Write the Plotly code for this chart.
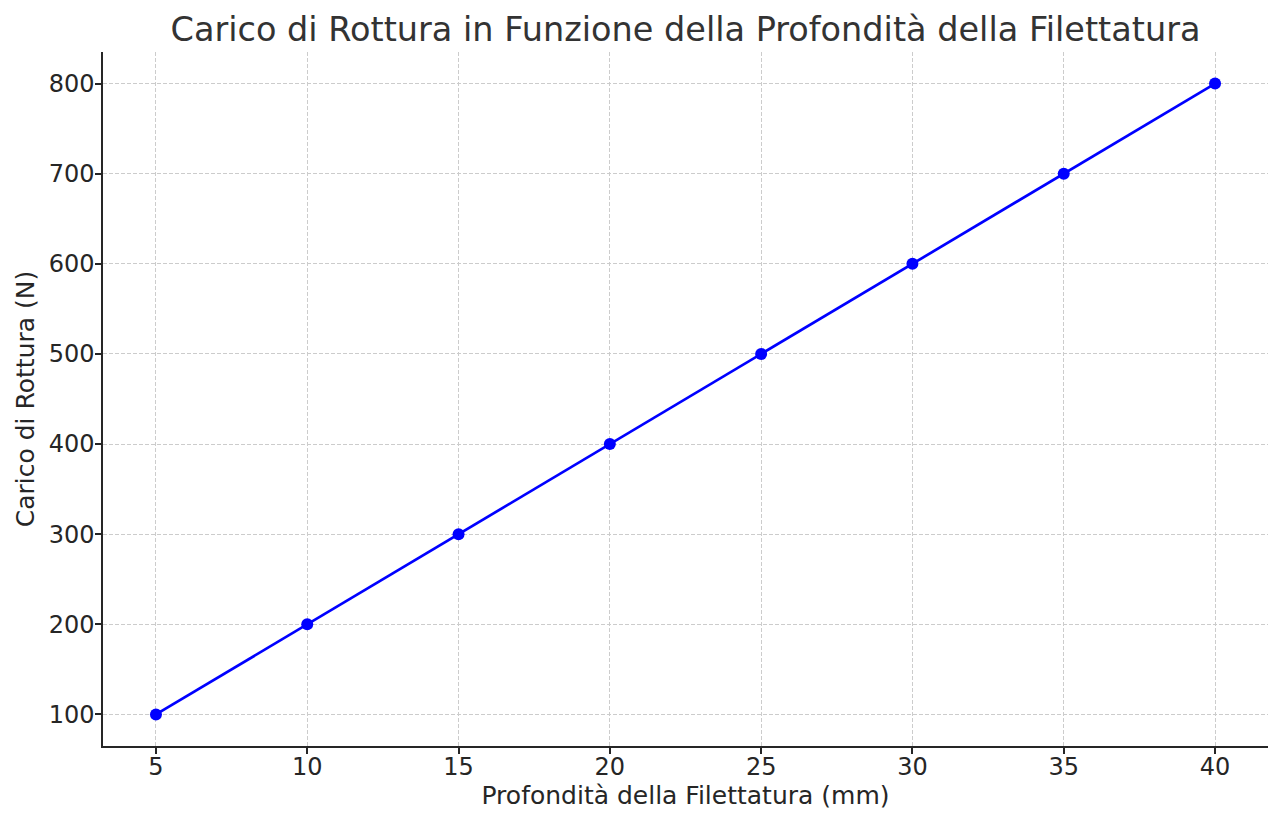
import plotly.graph_objects as go

# Profondità della filettatura (mm) e carico di rottura (N)
profondita = [5, 10, 15, 20, 25, 30, 35, 40]
carico = [100, 200, 300, 400, 500, 600, 700, 800]

x_ticks = [5, 10, 15, 20, 25, 30, 35, 40]
y_ticks = [100, 200, 300, 400, 500, 600, 700, 800]

FONT = "DejaVu Sans"

fig = go.Figure()
fig.add_trace(go.Scatter(
    x=profondita, y=carico,
    mode="lines+markers",
    line=dict(color="#0000ff", width=2.7),
    marker=dict(color="#0000ff", size=12),
))

# margini del 5% come matplotlib
xr = max(profondita) - min(profondita)
yr = max(carico) - min(carico)

axis_common = dict(
    showline=True, linecolor="#262626", linewidth=1.5,
    ticks="outside", ticklen=6, tickwidth=1.5, tickcolor="#262626",
    showgrid=True, gridcolor="#cccccc", griddash="4px,2px", gridwidth=1,
    zeroline=False, mirror=False,
    tickfont=dict(family=FONT, size=24, color="#262626"),
)

fig.update_xaxes(
    range=[min(profondita) - 0.05 * xr, max(profondita) + 0.05 * xr],
    tickvals=x_ticks,
    ticklabelstandoff=-8,
    title=dict(text="Profondità della Filettatura (mm)", standoff=4,
               font=dict(family=FONT, size=25, color="#262626")),
    **axis_common,
)
fig.update_yaxes(
    range=[min(carico) - 0.05 * yr, max(carico) + 0.05 * yr],
    tickvals=y_ticks,
    ticklabelstandoff=-4,
    title=dict(text="Carico di Rottura (N)", standoff=7,
               font=dict(family=FONT, size=25, color="#262626")),
    **axis_common,
)

fig.update_layout(
    width=1282, height=827,
    margin=dict(l=103, r=14, t=52, b=81),
    plot_bgcolor="white", paper_bgcolor="white",
    showlegend=False,
    title=dict(text="Carico di Rottura in Funzione della Profondità della Filettatura",
               x=0.5 + (103 - 14) / 2 / 1282, xanchor="center", y=1 - 18 / 827, yanchor="top",
               font=dict(family=FONT, size=33.5, color="#333333")),
)

fig.write_html("out.html", config={"displayModeBar": False},
               post_script="document.body.style.margin='0';")
